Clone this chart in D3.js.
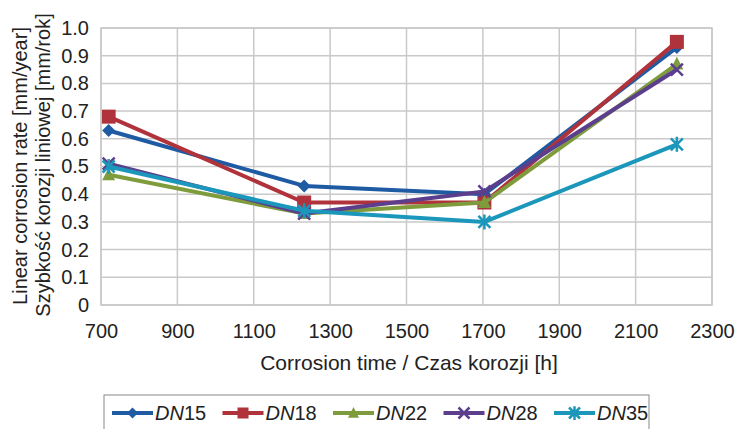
<!DOCTYPE html>
<html>
<head>
<meta charset="utf-8">
<script src="https://cdn.jsdelivr.net/npm/d3@7/dist/d3.min.js"></script>
<style>
  html, body { margin: 0; padding: 0; background: #fff; }
  svg text { font-family: "Liberation Sans", Arial, sans-serif; fill: #222; }
</style>
</head>
<body>
<svg id="chart" width="736" height="429"></svg>
<script>
// Corrosion time [h] at each measurement
const times = [720, 1232, 1704, 2208];
// Linear corrosion rate [mm/year] per pipe diameter
const seriesNames = ["15", "18", "22", "28", "35"];
const dn15 = [0.63, 0.43, 0.40, 0.93];
const dn18 = [0.68, 0.37, 0.37, 0.95];
const dn22 = [0.47, 0.33, 0.37, 0.87];
const dn28 = [0.51, 0.33, 0.41, 0.85];
const dn35 = [0.50, 0.34, 0.30, 0.58];
const xTicks = [700, 900, 1100, 1300, 1500, 1700, 1900, 2100, 2300];
const yTicks = [0, 0.1, 0.2, 0.3, 0.4, 0.5, 0.6, 0.7, 0.8, 0.9, 1.0];

const colors = ["#1f5ba3", "#b0323b", "#7f9c3d", "#5b3f8d", "#1b97bb"];
const shapes = ["diamond", "square", "triangle", "cross", "star"];
const markerSizes = [6.5, 7, 6.5, 6, 6];
const allValues = [dn15, dn18, dn22, dn28, dn35];

const svg = d3.select("#chart");
const plotL = 101, plotR = 712, plotT = 28, plotB = 305;
const FONT = "Liberation Sans, Arial, sans-serif";

const x = d3.scaleLinear().domain([700, 2300]).range([plotL, plotR]);
const y = d3.scaleLinear().domain([0, 1.0]).range([plotB, plotT]);

// grid
const grid = svg.append("g");
grid.selectAll("line.v").data(xTicks).join("line")
  .attr("x1", d => x(d)).attr("x2", d => x(d))
  .attr("y1", plotT).attr("y2", plotB)
  .attr("stroke", "#c9c9c9").attr("stroke-width", 1.5);
grid.selectAll("line.h").data(yTicks).join("line")
  .attr("x1", plotL).attr("x2", plotR)
  .attr("y1", d => y(d)).attr("y2", d => y(d))
  .attr("stroke", "#c9c9c9").attr("stroke-width", 1.5);

// axes (labels only)
const xAxis = d3.axisBottom(x).tickValues(xTicks).tickSize(0).tickPadding(19).tickFormat(d3.format("d"));
svg.append("g").attr("transform", `translate(0,${plotB})`).call(xAxis)
  .call(g => g.select(".domain").remove())
  .selectAll("text").style("font-size", "20px").style("font-family", FONT).attr("fill", "#222");

const yAxis = d3.axisLeft(y).tickValues(yTicks).tickSize(0).tickPadding(12)
  .tickFormat(d => d === 0 ? "0" : d3.format(".1f")(d));
svg.append("g").attr("transform", `translate(${plotL},0)`).call(yAxis)
  .call(g => g.select(".domain").remove())
  .selectAll("text").style("font-size", "20px").style("font-family", FONT).attr("fill", "#222");

// axis titles
svg.append("text").attr("x", 409).attr("y", 370)
  .attr("text-anchor", "middle").style("font-size", "21px")
  .text("Corrosion time / Czas korozji [h]");
svg.append("text").attr("transform", "translate(27,166) rotate(-90)")
  .attr("text-anchor", "middle").style("font-size", "20px")
  .text("Linear corrosion rate [mm/year]");
svg.append("text").attr("transform", "translate(50,165) rotate(-90)")
  .attr("text-anchor", "middle").style("font-size", "20px")
  .text("Szybkość korozji liniowej [mm/rok]");

// marker drawing
function drawMarker(g, shape, color, cx, cy, s) {
  if (shape === "diamond") {
    g.append("path").attr("d", `M${cx},${cy - s}L${cx + s},${cy}L${cx},${cy + s}L${cx - s},${cy}Z`)
      .attr("fill", color);
  } else if (shape === "square") {
    g.append("rect").attr("x", cx - s).attr("y", cy - s).attr("width", 2 * s).attr("height", 2 * s)
      .attr("fill", color);
  } else if (shape === "triangle") {
    g.append("path").attr("d", `M${cx},${cy - s * 1.1}L${cx + s},${cy + s * 0.85}L${cx - s},${cy + s * 0.85}Z`)
      .attr("fill", color);
  } else if (shape === "cross") {
    g.append("path").attr("d", `M${cx - s},${cy - s}L${cx + s},${cy + s}M${cx - s},${cy + s}L${cx + s},${cy - s}`)
      .attr("stroke", color).attr("stroke-width", 2.5).attr("fill", "none");
  } else if (shape === "star") {
    g.append("path").attr("d", `M${cx - s},${cy - s}L${cx + s},${cy + s}M${cx - s},${cy + s}L${cx + s},${cy - s}M${cx},${cy - s * 1.25}L${cx},${cy + s * 1.25}`)
      .attr("stroke", color).attr("stroke-width", 2.5).attr("fill", "none");
  }
}

const line = d3.line().x(d => x(d[0])).y(d => y(d[1]));

allValues.forEach((vals, i) => {
  const pts = times.map((t, k) => [t, vals[k]]);
  const g = svg.append("g");
  g.append("path").datum(pts).attr("d", line)
    .attr("fill", "none").attr("stroke", colors[i]).attr("stroke-width", 4)
    .attr("stroke-linejoin", "round");
  pts.forEach(p => drawMarker(g, shapes[i], colors[i], x(p[0]), y(p[1]), markerSizes[i]));
});

// plot border
svg.append("rect").attr("x", plotL).attr("y", plotT).attr("width", plotR - plotL).attr("height", plotB - plotT)
  .attr("fill", "none").attr("stroke", "#c9c9c9").attr("stroke-width", 1.5);

// legend
const lg = svg.append("g");
lg.append("rect").attr("x", 104).attr("y", 395).attr("width", 545).attr("height", 40)
  .attr("fill", "#fff").attr("stroke", "#888").attr("stroke-width", 1);
seriesNames.forEach((name, i) => {
  const x0 = 112 + i * 110.5, yc = 413;
  lg.append("line").attr("x1", x0).attr("x2", x0 + 41).attr("y1", yc).attr("y2", yc)
    .attr("stroke", colors[i]).attr("stroke-width", 4);
  drawMarker(lg, shapes[i], colors[i], x0 + 20.5, yc, 5.5);
  const t = lg.append("text").attr("x", x0 + 43).attr("y", yc + 7).style("font-size", "20px");
  t.append("tspan").style("font-style", "italic").text("DN");
  t.append("tspan").text(name);
});
</script>
</body>
</html>
